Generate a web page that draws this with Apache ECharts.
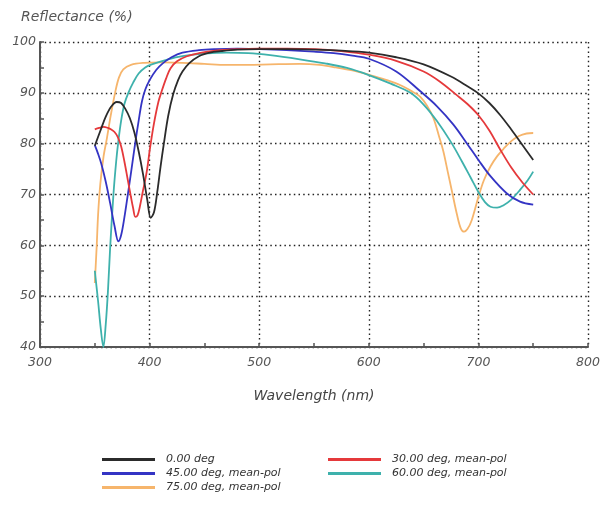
<!DOCTYPE html>
<html>
<head>
<meta charset="utf-8">
<script src="https://cdn.jsdelivr.net/npm/echarts@6/dist/echarts.min.js"></script>
<style>
  html, body { margin: 0; padding: 0; background: #fff; }
  #chart { width: 603px; height: 505px; }
</style>
</head>
<body>
<div id="chart"></div>
<script>
// Reflectance spectra of the coating at several angles of incidence
const seriesNames = [
  '0.00 deg',
  '30.00 deg, mean-pol',
  '45.00 deg, mean-pol',
  '60.00 deg, mean-pol',
  '75.00 deg, mean-pol'
];

// [wavelength (nm), reflectance (%)]
const deg0 = [
  [350,79.6],[355,82.5],[360,85.3],[365,87.3],[370,88.2],[374,88.0],[378,86.8],[382,85.0],
  [386,82.3],[390,78.5],[394,74.0],[398,68.8],[401,65.4],[404,66.5],[407,70.5],[410,75.5],
  [413,80.0],[417,85.5],[421.5,89.7],[426,92.5],[430,94.2],[436,95.8],[445,97.2],[455,97.9],
  [465,98.2],[480,98.5],[500,98.6],[525,98.6],[550,98.5],[575,98.3],[600,97.9],[625,97.0],
  [650,95.6],[675,93.2],[690,91.3],[700,89.9],[710,88.0],[720,85.6],[730,82.8],[740,79.8],
  [750,76.8]
];
const deg30 = [
  [350,82.8],[354,83.1],[358,83.3],[362,83.1],[365,82.8],[368,82.3],[371,81.3],[374,79.5],
  [377,76.5],[380,73.0],[383,69.5],[385,67.3],[387,65.6],[389,65.9],[391,67.5],[394,70.8],
  [397.4,74.5],[400.5,79.3],[404,84.0],[408,88.2],[411,90.3],[415,92.8],[419,94.8],[425,96.2],
  [434,97.2],[445,97.8],[460,98.3],[480,98.6],[500,98.7],[525,98.7],[550,98.6],[575,98.2],
  [600,97.5],[625,96.3],[650,94.2],[665,92.2],[680,89.6],[690,87.8],[700,85.6],[710,82.6],
  [720,78.8],[730,75.3],[740,72.4],[750,70.0]
];
const deg45 = [
  [350,79.7],[353,78.0],[356,76.0],[360,72.5],[364,68.3],[368,63.8],[371.5,60.8],[374,62.0],
  [377,65.5],[380,69.8],[383.5,75.0],[386.8,80.0],[390,84.5],[393,88.3],[396,90.6],[400,92.5],
  [406,94.5],[412,95.8],[420,97.0],[430,97.9],[445,98.4],[460,98.6],[480,98.7],[500,98.6],
  [525,98.4],[550,98.1],[568,97.8],[585,97.3],[600,96.7],[625,94.2],[647,90.3],[662,87.4],
  [677,83.8],[690,79.9],[700,76.8],[711,73.6],[726,70.2],[738,68.6],[750,68.0]
];
const deg60 = [
  [350,55.0],[353,49.0],[355.5,43.5],[357.8,40.0],[360,44.5],[362,51.0],[364,59.5],[367,70.0],
  [369.5,76.5],[371.5,80.5],[374,84.5],[377,87.8],[380.6,90.0],[385,92.0],[390,93.8],[396,95.0],
  [402,95.6],[417,96.6],[430,97.2],[450,97.7],[470,97.9],[490,97.8],[510,97.4],[537,96.6],
  [560,95.8],[580,94.9],[600,93.5],[620,91.8],[638,90.0],[650,87.7],[662,84.5],[675,80.3],
  [685,76.5],[693,73.3],[700,70.5],[706,68.5],[711,67.6],[717,67.4],[723,67.9],[730,69.0],
  [738,70.9],[745,72.8],[750,74.5]
];
const deg75 = [
  [350,52.6],[351.7,59.7],[353,66.0],[355,72.0],[358,77.5],[361,81.0],[364.5,85.5],[368.5,90.0],
  [372,93.0],[376,94.6],[383,95.5],[395,95.9],[410,96.0],[430,95.9],[450,95.7],[470,95.5],
  [490,95.5],[510,95.6],[537,95.7],[555,95.5],[570,95.0],[585,94.4],[601,93.5],[615,92.6],
  [629,91.5],[640,90.2],[647,89.2],[653,87.5],[659,85.0],[664,81.5],[668,78.5],[672,74.5],
  [676,70.5],[680.5,66.0],[684,63.3],[687,62.7],[690,63.2],[694,65.0],[700,69.5],[705,72.8],
  [711,75.5],[717,77.5],[723,79.0],[730,80.5],[737,81.5],[744,82.0],[750,82.1]
];

const curves = [deg0, deg30, deg45, deg60, deg75];
const colors = ['#2b2b2b', '#e5393b', '#3434c4', '#3eb1ac', '#f6b56c'];

const textFont = 'DejaVu Sans, Verdana, sans-serif';
const gridDots = { color: '#222', width: 1.4, type: [1.5, 3.2] };

const chart = echarts.init(document.getElementById('chart'), null, { renderer: 'canvas' });

chart.setOption({
  animation: false,
  backgroundColor: '#fff',
  title: {
    text: 'Reflectance (%)',
    left: 16,
    top: 5,
    textStyle: { fontFamily: textFont, fontStyle: 'italic', fontWeight: 'normal', fontSize: 14, color: '#555' }
  },
  grid: { left: 40, right: 15, top: 42, bottom: 158, containLabel: false },
  xAxis: {
    type: 'value',
    min: 300, max: 800, interval: 100,
    name: 'Wavelength (nm)',
    nameLocation: 'middle',
    nameGap: 42,
    nameTextStyle: { fontFamily: textFont, fontStyle: 'italic', fontSize: 14, color: '#444' },
    axisLine: { show: true, onZero: false, lineStyle: { color: '#555', width: 2 } },
    axisTick: { show: true, length: 4, inside: true, lineStyle: { color: '#555', width: 1.5 } },
    minorTick: { show: true, splitNumber: 2, length: 4, lineStyle: { color: '#555', width: 1.5 } },
    axisLabel: { margin: 9, fontFamily: textFont, fontStyle: 'italic', fontSize: 12.5, color: '#555' },
    splitLine: { show: true, lineStyle: gridDots }
  },
  yAxis: {
    type: 'value',
    min: 40, max: 100, interval: 10,
    axisLine: { show: true, onZero: false, lineStyle: { color: '#555', width: 2 } },
    axisTick: { show: true, length: 4, inside: true, lineStyle: { color: '#555', width: 1.5 } },
    minorTick: { show: true, splitNumber: 2, length: 4, lineStyle: { color: '#555', width: 1.5 } },
    axisLabel: { margin: 4, fontFamily: textFont, fontStyle: 'italic', fontSize: 12.5, color: '#555' },
    splitLine: { show: true, lineStyle: gridDots }
  },
  legend: [
    {
      data: [seriesNames[0], seriesNames[2], seriesNames[4]],
      orient: 'vertical', left: 97, top: 449,
      icon: 'rect', itemWidth: 53, itemHeight: 3, itemGap: 3,
      textStyle: { fontFamily: textFont, fontStyle: 'italic', fontSize: 11, color: '#333', padding: [0, 0, 0, 6] }
    },
    {
      data: [seriesNames[1], seriesNames[3]],
      orient: 'vertical', left: 323, top: 449,
      icon: 'rect', itemWidth: 53, itemHeight: 3, itemGap: 3,
      textStyle: { fontFamily: textFont, fontStyle: 'italic', fontSize: 11, color: '#333', padding: [0, 0, 0, 6] }
    }
  ],
  series: curves.map((d, i) => ({
    name: seriesNames[i],
    type: 'line',
    data: d,
    symbol: 'none',
    smooth: 0.35,
    color: colors[i],
    lineStyle: { width: 1.8, color: colors[i] },
    z: 5 - i
  }))
});
</script>
</body>
</html>
